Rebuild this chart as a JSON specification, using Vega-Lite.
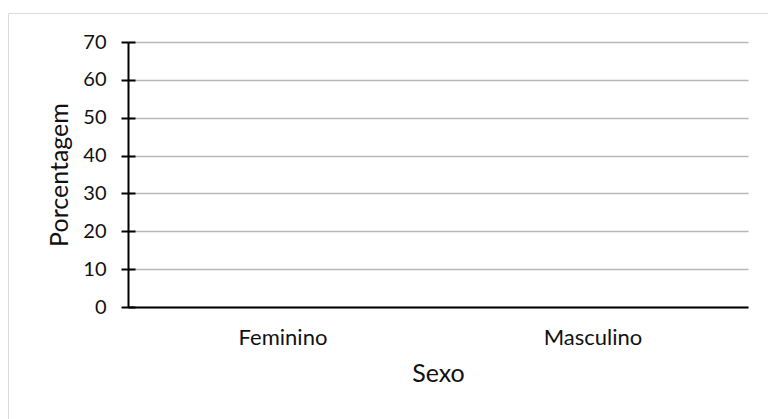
{
  "$schema": "https://vega.github.io/schema/vega-lite/v6.json",
  "width": 760,
  "height": 406,
  "autosize": {"type": "none"},
  "padding": {"left": 8, "top": 13, "right": 0, "bottom": 0},
  "background": "white",
  "data": {
    "values": [
      {"Sexo": "Feminino", "Porcentagem": 0},
      {"Sexo": "Masculino", "Porcentagem": 0}
    ]
  },
  "encoding": {
    "x": {
      "field": "Sexo",
      "type": "nominal",
      "sort": null,
      "scale": {"range": [120, 740], "paddingInner": 0.4, "paddingOuter": 0.2},
      "axis": {
        "title": "Sexo",
        "orient": "bottom",
        "offset": -112,
        "labelAngle": 0,
        "ticks": false,
        "grid": false,
        "labelPadding": 20,
        "labelFontSize": 22,
        "labelColor": "#111111",
        "domainColor": "#000000",
        "domainWidth": 2,
        "titleFontSize": 25,
        "titleFontWeight": "normal",
        "titleColor": "#111111",
        "titlePadding": 13
      }
    }
  },
  "layer": [
    {
      "mark": {"type": "bar", "color": "#4472c4"},
      "encoding": {
        "y": {
          "field": "Porcentagem",
          "type": "quantitative",
          "scale": {"domain": [0, 70], "range": [294, 29], "nice": false},
          "axis": {
            "title": "Porcentagem",
            "orient": "left",
            "offset": -120,
            "values": [0, 10, 20, 30, 40, 50, 60, 70],
            "tickSize": 7,
            "tickColor": "#000000",
            "tickWidth": 2,
            "labelPadding": 15,
            "labelFontSize": 20,
            "labelColor": "#111111",
            "domainColor": "#000000",
            "domainWidth": 2,
            "grid": true,
            "gridColor": "#b7b7b7",
            "gridWidth": 1.3,
            "titleFontSize": 25,
            "titleFontWeight": "normal",
            "titleColor": "#111111",
            "titlePadding": 10
          }
        }
      }
    },
    {
      "mark": {"type": "bar", "color": "#4472c4"},
      "encoding": {
        "y": {
          "field": "Porcentagem",
          "type": "quantitative",
          "scale": {"domain": [0, 70], "range": [294, 29], "nice": false},
          "axis": {
            "title": null,
            "orient": "left",
            "offset": -127,
            "values": [0, 10, 20, 30, 40, 50, 60, 70],
            "tickSize": 7,
            "tickColor": "#000000",
            "tickWidth": 2,
            "labels": false,
            "domain": false,
            "grid": false
          }
        }
      }
    }
  ],
  "resolve": {"scale": {"y": "independent"}, "axis": {"y": "independent"}},
  "config": {
    "font": "Lato",
    "view": {"stroke": "#d9d9d9", "strokeWidth": 1}
  }
}
